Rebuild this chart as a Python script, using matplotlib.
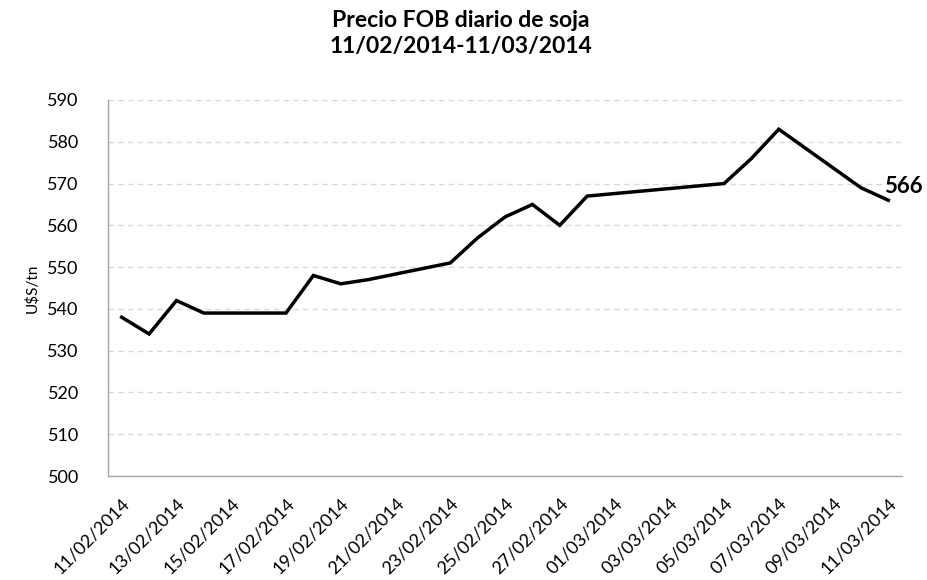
import pandas as pd
import matplotlib
matplotlib.use("Agg")
import matplotlib.pyplot as plt

# Data (USD/tn)
dates = ["11/02/2014", "12/02/2014", "13/02/2014", "14/02/2014", "17/02/2014",
         "18/02/2014", "19/02/2014", "20/02/2014", "23/02/2014", "24/02/2014",
         "25/02/2014", "26/02/2014", "27/02/2014", "28/02/2014", "05/03/2014",
         "06/03/2014", "07/03/2014", "10/03/2014", "11/03/2014"]
prices = [538, 534, 542, 539, 539, 548, 546, 547, 551, 557,
          562, 565, 560, 567, 570, 576, 583, 569, 566]

title = "Precio FOB diario de soja\n11/02/2014-11/03/2014"
ylabel = "U$S/tn"
y_ticks = list(range(500, 591, 10))


def main():
    plt.rcParams['font.family'] = ['Lato', 'DejaVu Sans']

    x = pd.to_datetime(dates, format="%d/%m/%Y")
    start, end = x.min(), x.max()
    half = pd.Timedelta(hours=12)

    fig = plt.figure(figsize=(9.28, 5.8), dpi=100)
    ax = fig.add_axes([0.1164, 0.1793, 0.8556, 0.6483])

    ax.plot(x, prices, color="black", linewidth=2.5, solid_joinstyle="miter")

    # last value label
    ax.annotate(str(prices[-1]), xy=(x[-1], prices[-1]), xytext=(-3, 2),
                textcoords="offset points", ha="left", va="bottom",
                fontsize=16, fontweight="bold")

    ax.set_xlim(start - half, end + half)
    ax.set_ylim(500, 590)
    ax.set_yticks(y_ticks)
    ax.tick_params(axis="y", labelsize=13, length=0, pad=21)

    xt = pd.date_range(start, end, freq="2D")
    ax.set_xticks(xt)
    ax.set_xticklabels([d.strftime("%d/%m/%Y") for d in xt], rotation=45,
                       ha="right", rotation_mode="anchor", fontsize=13)
    ax.tick_params(axis="x", length=0, pad=14)

    ax.grid(axis="y", color="#d9d9d9", linestyle=(0, (4, 3)), linewidth=1)
    ax.set_axisbelow(True)
    for side in ["top", "right"]:
        ax.spines[side].set_visible(False)
    for side in ["left", "bottom"]:
        ax.spines[side].set_color("#a6a6a6")
        ax.spines[side].set_linewidth(1)

    ax.set_ylabel(ylabel, fontsize=11, labelpad=6)
    fig.text(0.497, 0.982, title, ha="center", va="top", fontsize=16.5,
             fontweight="bold", linespacing=1.25)

    fig.savefig("out.png", dpi=100)
    plt.close(fig)


if __name__ == "__main__":
    main()
